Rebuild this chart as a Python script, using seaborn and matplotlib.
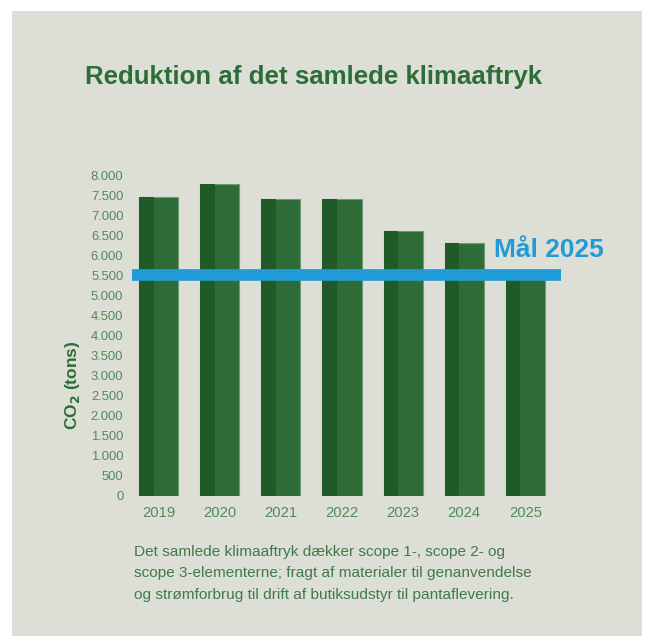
import matplotlib
matplotlib.use("Agg")
import matplotlib.pyplot as plt
from matplotlib.patches import Rectangle
import seaborn as sns
import pandas as pd

years = ["2019", "2020", "2021", "2022", "2023", "2024", "2025"]
co2_tons = [7450, 7780, 7390, 7390, 6600, 6310, 5500]
goal_value = 5500
goal_label = "Mål 2025"
y_ticks = [0, 500, 1000, 1500, 2000, 2500, 3000, 3500, 4000, 4500, 5000, 5500, 6000, 6500, 7000, 7500, 8000]
y_tick_labels = ["0", "500", "1.000", "1.500", "2.000", "2.500", "3.000", "3.500", "4.000",
                 "4.500", "5.000", "5.500", "6.000", "6.500", "7.000", "7.500", "8.000"]
title = "Reduktion af det samlede klimaaftryk"
ylabel = r"CO$_\mathbf{2}$ (tons)"
note = ("Det samlede klimaaftryk dækker scope 1-, scope 2- og\n"
        "scope 3-elementerne; fragt af materialer til genanvendelse\n"
        "og strømforbrug til drift af butiksudstyr til pantaflevering.")

BG = "#dddfd6"
LIGHT = "#2d6c37"
DARK = "#215a29"
EDGE = "#6f9a72"
BLUE = "#219bd7"
TITLE_C = "#2b6e38"
TEXT_C = "#3f7b49"
TICK_C = "#4f8a5a"

sns.set_theme(style="white")
plt.rcParams["font.family"] = ["Liberation Sans", "DejaVu Sans"]

W, H = 654, 636
fig = plt.figure(figsize=(W / 100, H / 100), dpi=100, facecolor="white")
fig.patches.append(Rectangle((12 / W, 0), (642 - 12) / W, (H - 11) / H,
                             transform=fig.transFigure, facecolor=BG, edgecolor="none", zorder=-10))

x0, x1 = -0.5, 6.6
unit = 61.1
c0 = 158.7
left_px = c0 + x0 * unit
right_px = c0 + x1 * unit
bot_px, top_px = 496, 175
ax = fig.add_axes([left_px / W, 1 - bot_px / H, (right_px - left_px) / W, (bot_px - top_px) / H])
ax.set_facecolor("none")

df = pd.DataFrame({"year": years, "co2": co2_tons})
sns.barplot(data=df, x="year", y="co2", ax=ax, color=LIGHT, saturation=1, width=0.64,
            edgecolor=EDGE, linewidth=0.8, zorder=2)
for p in list(ax.patches):
    ax.add_patch(Rectangle((p.get_x(), 0), p.get_width() * 0.37, p.get_height(),
                           facecolor=DARK, edgecolor="none", zorder=2.5))

ax.set_xlim(x0, x1)
ax.set_ylim(0, 8000)
ax.hlines(goal_value, -0.43, 6.58, color=BLUE, linewidth=8.4, zorder=5, clip_on=False)
ax.text(5.49, 5968, goal_label, color=BLUE, fontsize=19, fontweight="bold",
        ha="left", va="baseline", clip_on=False, zorder=6)

ax.set_yticks(y_ticks)
ax.set_yticklabels(y_tick_labels)
ax.tick_params(axis="y", length=0, pad=3.5, labelsize=9.4, labelcolor=TICK_C)
ax.tick_params(axis="x", length=0, pad=7, labelsize=10.6, labelcolor=TICK_C)
for s in ax.spines.values():
    s.set_visible(False)
ax.set_xlabel("")
ax.set_ylabel("")

fig.text(72 / W, 1 - 385 / H, ylabel, fontsize=12.5, fontweight="bold", color=TITLE_C,
         rotation=90, ha="center", va="center")
fig.text(85 / W, 1 - 84 / H, title, fontsize=18.6, fontweight="bold", color=TITLE_C,
         ha="left", va="baseline")
fig.text(134 / W, 1 - 545 / H, note, fontsize=11.1, color=TEXT_C, ha="left", va="top",
         linespacing=1.66)

fig.savefig("out.png", dpi=100, facecolor="white")
